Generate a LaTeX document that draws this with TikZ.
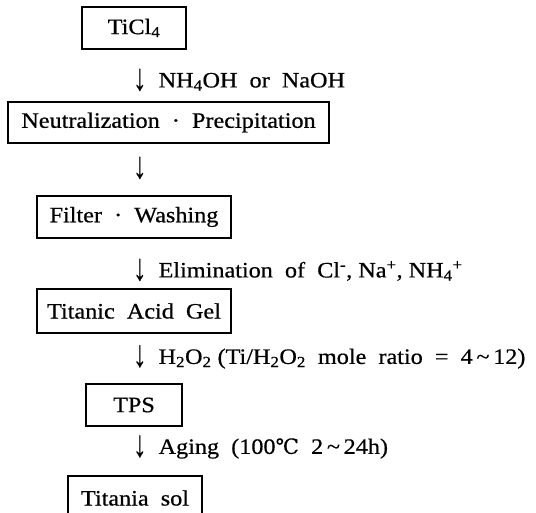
\documentclass[tikz,border=0pt]{standalone}
\usepackage{fontspec}
\setmainfont{Liberation Serif}[FakeStretch=1.1,FakeBold=0.6]
\newfontfamily\dvs{DejaVu Serif}[FakeBold=0.4]
\newcommand{\dnarrow}{\raisebox{-0.25ex}{\scalebox{1.1}[1.7]{↓}}}
\begin{document}
\begin{tikzpicture}[x=1pt,y=-1pt,
  box/.style={draw,line width=1.1pt,inner sep=0pt,font=\fontsize{22}{26}\selectfont},
  lbl/.style={anchor=west,inner sep=0pt,font=\fontsize{22}{26}\selectfont}]
\useasboundingbox (0,0) rectangle (536,512);
\node[box,minimum width=104,minimum height=42] (ticl) at (134,28) {TiCl\textsubscript{4}};
\node[lbl] (l1) at (133,80) {\dnarrow\ \ NH\textsubscript{4}OH\ \ or\ \ NaOH};
\node[box,minimum width=321,minimum height=41] (neu) at (168.5,122.5) {Neutralization\ \ ·\ \ Precipitation};
\node[lbl] (l2) at (133,168) {\dnarrow};
\node[box,minimum width=194,minimum height=42] (fil) at (134,217) {Filter\ \ ·\ \ Washing};
\node[lbl] (l3) at (133,270) {\dnarrow\ \ Elimination\ \ of\ \ Cl\textsuperscript{-}, Na\textsuperscript{+}, NH\textsubscript{4}\textsuperscript{+}};
\node[box,minimum width=194,minimum height=44] (tag) at (134,311) {Titanic\ \ Acid\ \ Gel};
\node[lbl] (l4) at (133,357) {\dnarrow\ \ H\textsubscript{2}O\textsubscript{2} (Ti/H\textsubscript{2}O\textsubscript{2}\ \ mole\ \ ratio\ \ =\ \ 4\,\textasciitilde\,12)};
\node[box,minimum width=96,minimum height=42] (tps) at (134,405) {TPS};
\node[lbl] (l5) at (133,447) {\dnarrow\ \ Aging\ \ (100{\dvs\fontsize{21}{24}\selectfont ℃}\ \ 2\,\textasciitilde\,24h)};
\node[box,minimum width=134,minimum height=44] (sol) at (135,498) {Titania\ \ sol};
\end{tikzpicture}
\end{document}
